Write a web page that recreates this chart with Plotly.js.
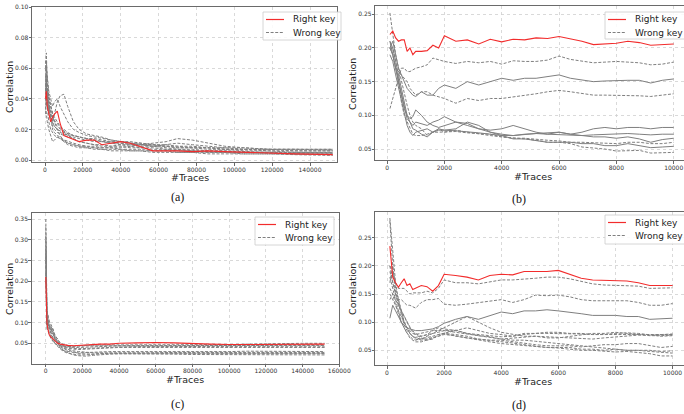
<!DOCTYPE html>
<html><head><meta charset="utf-8">
<script src="https://cdn.plot.ly/plotly-3.0.1.min.js"></script>
<style>html,body{margin:0;padding:0;background:#fff}#chart{width:684px;height:414px}</style>
</head><body><div id="chart"></div>
<script>
// ---------- data ----------
// panel (a)
const xA = [300,700,1200,2000,3000,4000,5000,6500,8000,10000,12000,15000,18000,22000,26000,30000,35000,40000,45000,50000,57000,64000,70000,78000,86000,95000,105000,118000,132000,152000];
const rightA = [.04,.045,.035,.03,.025,.028,.03,.032,.024,.016,.015,.014,.012,.013,.013,.01,.011,.012,.011,.009,.006,.006,.006,.0055,.006,.0055,.005,.0045,.004,.0035];
const wrongA = [
 [.06,.07,.05,.04,.035,.03,.025,.022,.02,.018,.016,.014,.012,.011,.01,.009,.009,.01,.009,.008,.007,.007,.006,.006,.0055,.005,.005,.0045,.004,.004],
 [.05,.04,.045,.035,.03,.025,.03,.038,.042,.043,.035,.025,.02,.017,.016,.015,.013,.012,.011,.01,.009,.008,.007,.007,.006,.006,.0055,.005,.005,.005],
 [.045,.065,.055,.045,.04,.035,.038,.04,.035,.03,.025,.02,.018,.016,.015,.014,.013,.012,.012,.011,.01,.009,.009,.008,.008,.007,.007,.006,.006,.006],
 [.035,.03,.025,.02,.015,.012,.013,.015,.014,.013,.012,.011,.01,.009,.009,.008,.008,.008,.009,.01,.011,.012,.014,.013,.011,.009,.008,.007,.007,.0065],
 [.055,.05,.04,.03,.028,.024,.022,.02,.018,.017,.016,.015,.014,.013,.012,.012,.011,.01,.01,.009,.009,.01,.011,.01,.009,.008,.008,.007,.007,.007],
 [.04,.035,.045,.038,.03,.02,.018,.016,.015,.013,.011,.01,.009,.008,.008,.007,.007,.007,.006,.006,.006,.006,.005,.005,.005,.005,.004,.004,.004,.0035],
 [.065,.06,.05,.042,.036,.03,.028,.025,.022,.02,.018,.016,.015,.014,.014,.013,.012,.012,.011,.01,.01,.009,.008,.008,.007,.007,.006,.006,.005,.005],
 [.045,.055,.04,.032,.026,.022,.02,.018,.017,.016,.015,.014,.012,.011,.01,.01,.009,.009,.008,.008,.008,.007,.007,.006,.006,.006,.005,.005,.005,.0045],
 [.05,.045,.038,.035,.032,.028,.025,.02,.016,.012,.01,.009,.008,.008,.007,.007,.006,.006,.006,.006,.005,.005,.005,.005,.004,.004,.004,.004,.0035,.003],
 [.04,.06,.048,.04,.035,.03,.026,.024,.021,.019,.017,.016,.015,.014,.013,.012,.012,.011,.011,.011,.01,.01,.009,.009,.008,.008,.007,.007,.006,.006],
 [.03,.05,.035,.025,.02,.018,.016,.015,.014,.012,.011,.01,.009,.009,.008,.008,.008,.007,.007,.007,.006,.006,.006,.006,.005,.005,.005,.005,.004,.004],
 [.06,.05,.042,.036,.03,.025,.022,.02,.019,.018,.017,.016,.015,.014,.013,.012,.011,.011,.01,.01,.009,.009,.008,.008,.008,.007,.007,.007,.007,.007]
];
// panel (b)
const xB = [100,200,300,400,500,600,700,800,900,1000,1200,1400,1600,1800,2000,2400,2800,3200,3600,4000,4400,4800,5200,5600,6000,6400,6800,7200,7600,8000,8400,8800,9200,9600,10000];
const rightB = [.22,.225,.215,.21,.212,.212,.195,.2,.19,.195,.195,.196,.204,.2,.218,.21,.212,.206,.213,.209,.213,.212,.215,.214,.217,.214,.21,.205,.206,.207,.21,.208,.204,.205,.206];
const wrongB = [
 [.11,.125,.14,.155,.17,.17,.165,.165,.168,.17,.172,.175,.185,.182,.18,.177,.18,.178,.18,.176,.181,.18,.18,.182,.188,.183,.18,.178,.179,.18,.179,.178,.175,.176,.179],
 [.2,.21,.19,.17,.16,.15,.14,.135,.13,.128,.135,.13,.13,.14,.145,.14,.15,.145,.15,.155,.152,.155,.155,.157,.16,.155,.153,.15,.151,.152,.152,.152,.148,.152,.154],
 [.2,.19,.17,.165,.16,.155,.15,.14,.135,.13,.135,.135,.13,.128,.125,.118,.125,.122,.125,.125,.127,.13,.132,.135,.137,.135,.132,.13,.13,.13,.13,.129,.128,.13,.132],
 [.252,.22,.19,.17,.15,.13,.115,.1,.09,.085,.08,.07,.075,.08,.075,.078,.075,.072,.07,.068,.067,.065,.063,.06,.06,.058,.053,.052,.05,.047,.048,.048,.044,.044,.045],
 [.21,.2,.18,.16,.14,.12,.1,.095,.098,.108,.1,.09,.085,.082,.085,.09,.088,.08,.078,.08,.085,.08,.075,.072,.075,.072,.075,.08,.082,.08,.082,.082,.08,.082,.082],
 [.2,.19,.17,.15,.13,.11,.095,.09,.085,.09,.088,.085,.09,.093,.098,.09,.085,.08,.075,.072,.07,.072,.073,.073,.075,.072,.07,.068,.068,.066,.068,.065,.06,.064,.066],
 [.19,.18,.16,.14,.12,.1,.085,.075,.07,.075,.078,.08,.075,.078,.078,.08,.09,.085,.075,.07,.065,.065,.063,.06,.06,.06,.058,.058,.055,.055,.058,.055,.052,.053,.054],
 [.2,.2,.18,.15,.12,.1,.09,.08,.072,.07,.07,.072,.075,.075,.075,.076,.074,.073,.072,.068,.066,.066,.064,.063,.062,.06,.06,.059,.058,.058,.06,.06,.058,.058,.06],
 [.21,.19,.17,.15,.13,.11,.1,.09,.08,.078,.072,.068,.075,.08,.078,.077,.076,.074,.072,.07,.07,.072,.073,.072,.071,.07,.07,.071,.072,.073,.073,.072,.071,.072,.072]
];
const solidB = [false,true,false,false,true,true,true,false,true];
// panel (c)
const xC = [100,300,700,1200,2000,3000,4000,5000,6500,8000,10000,12000,15000,18000,22000,26000,30000,35000,40000,50000,60000,70000,80000,90000,100000,110000,120000,130000,140000,152000];
const rightC = [.21,.12,.1,.085,.07,.065,.06,.055,.05,.048,.046,.045,.044,.045,.046,.047,.048,.048,.05,.051,.052,.051,.049,.048,.047,.047,.048,.047,.048,.048];
const wrongC = [
 [.35,.2,.13,.115,.1,.095,.08,.07,.06,.05,.047,.045,.044,.044,.045,.046,.046,.046,.047,.047,.047,.046,.046,.046,.047,.048,.049,.049,.05,.05],
 [.3,.15,.11,.1,.085,.09,.075,.065,.055,.047,.044,.042,.04,.04,.041,.042,.043,.043,.044,.044,.044,.044,.044,.045,.045,.045,.045,.046,.046,.046],
 [.25,.18,.12,.12,.1,.08,.085,.07,.06,.05,.042,.04,.038,.037,.038,.039,.04,.041,.041,.042,.042,.043,.042,.042,.042,.042,.043,.043,.043,.043],
 [.28,.16,.1,.09,.095,.07,.065,.06,.05,.044,.04,.038,.036,.035,.036,.037,.038,.039,.04,.04,.04,.04,.04,.04,.04,.04,.04,.041,.041,.04],
 [.33,.14,.1,.1,.08,.075,.06,.05,.045,.038,.032,.03,.028,.027,.028,.029,.03,.03,.03,.03,.03,.03,.029,.03,.03,.031,.031,.031,.03,.03],
 [.27,.12,.09,.085,.075,.065,.055,.05,.042,.036,.03,.026,.024,.022,.022,.024,.025,.026,.026,.027,.027,.028,.028,.028,.028,.028,.029,.029,.028,.028],
 [.22,.13,.095,.11,.09,.085,.07,.06,.05,.04,.032,.028,.022,.02,.019,.021,.023,.024,.025,.025,.026,.026,.026,.025,.025,.026,.026,.026,.026,.025],
 [.31,.15,.105,.095,.088,.078,.072,.06,.05,.042,.036,.033,.03,.025,.024,.024,.025,.025,.024,.024,.024,.024,.023,.023,.023,.023,.023,.022,.022,.022],
 [.26,.17,.12,.105,.092,.085,.075,.065,.055,.046,.038,.035,.032,.03,.028,.027,.027,.027,.027,.027,.026,.026,.027,.027,.027,.027,.027,.027,.027,.026],
 [.2,.11,.085,.08,.07,.06,.055,.05,.046,.044,.042,.042,.042,.043,.044,.044,.044,.044,.045,.045,.045,.044,.044,.044,.044,.044,.044,.045,.045,.045]
];
// panel (d)
const xD = xB;
const rightD = [.235,.18,.17,.162,.17,.177,.165,.168,.158,.16,.165,.163,.155,.165,.185,.183,.18,.175,.183,.185,.184,.19,.19,.19,.192,.185,.178,.175,.174,.173,.173,.17,.165,.165,.165];
const wrongD = [
 [.2,.19,.17,.16,.16,.16,.155,.15,.152,.152,.152,.155,.152,.16,.175,.17,.17,.168,.172,.175,.175,.176,.178,.18,.18,.177,.172,.168,.166,.165,.165,.164,.16,.16,.161],
 [.28,.2,.15,.14,.14,.135,.13,.13,.128,.125,.135,.14,.14,.142,.132,.13,.132,.135,.138,.14,.135,.14,.148,.147,.148,.145,.14,.138,.138,.138,.138,.135,.13,.13,.133],
 [.107,.13,.12,.11,.1,.095,.09,.088,.086,.085,.085,.087,.088,.092,.098,.105,.11,.105,.112,.118,.115,.12,.12,.122,.12,.118,.115,.112,.112,.112,.11,.11,.105,.106,.107],
 [.2,.17,.15,.13,.12,.11,.1,.09,.085,.08,.075,.078,.085,.09,.088,.085,.08,.078,.075,.074,.075,.08,.08,.082,.082,.08,.08,.078,.078,.078,.078,.078,.077,.078,.078],
 [.16,.15,.13,.12,.11,.1,.09,.085,.08,.078,.08,.082,.085,.085,.09,.1,.11,.1,.09,.082,.078,.075,.075,.072,.072,.075,.078,.08,.08,.082,.08,.078,.076,.076,.077],
 [.18,.16,.14,.12,.1,.09,.08,.075,.07,.068,.07,.072,.075,.078,.08,.085,.09,.085,.08,.078,.075,.078,.08,.08,.08,.08,.079,.078,.078,.08,.081,.08,.078,.075,.076],
 [.14,.15,.14,.13,.12,.11,.1,.09,.082,.078,.072,.068,.07,.078,.08,.078,.075,.07,.068,.068,.065,.062,.06,.058,.058,.058,.056,.058,.06,.06,.062,.062,.058,.055,.057],
 [.15,.14,.13,.115,.1,.09,.08,.072,.068,.065,.065,.068,.072,.075,.08,.075,.072,.07,.068,.066,.063,.06,.058,.055,.055,.055,.052,.052,.05,.052,.05,.05,.048,.047,.045],
 [.19,.17,.15,.13,.11,.095,.085,.08,.075,.07,.068,.07,.072,.075,.078,.076,.072,.068,.065,.062,.06,.058,.056,.055,.054,.052,.05,.05,.048,.047,.048,.046,.044,.04,.04],
 [.17,.2,.16,.14,.12,.1,.09,.08,.075,.072,.07,.075,.08,.085,.085,.082,.078,.075,.072,.07,.068,.068,.066,.064,.062,.06,.058,.055,.054,.052,.05,.05,.05,.048,.049],
 [.285,.22,.17,.14,.12,.1,.09,.08,.075,.073,.075,.078,.08,.082,.085,.086,.08,.076,.074,.07,.072,.074,.075,.074,.073,.072,.07,.07,.072,.074,.076,.077,.077,.078,.079]
];
const solidD = [false,false,true,false,false,false,false,false,false,false,false];
const legendLabels = ["Right key","Wrong key"];
const captions = ["(a)","(b)","(c)","(d)"];
const xTitle = "#Traces", yTitle = "Correlation";
const xTicksA = [0,20000,40000,60000,80000,100000,120000,140000];
const xTicksC = [0,20000,40000,60000,80000,100000,120000,140000,160000];
const xTicksB = [0,2000,4000,6000,8000,10000];
const yTicksA = [0,0.02,0.04,0.06,0.08,0.10];
const yTicksB = [0.05,0.10,0.15,0.20,0.25];
const yTicksC = [0.05,0.10,0.15,0.20,0.25,0.30,0.35];

// ---------- layout helpers ----------
const W=684,H=414;
const px=x=>x/W, py=y=>1-y/H;
const RED='#f22c2c', GRAY='#7f7f7f', FONT='DejaVu Sans, sans-serif';

const panels = [
 {ax:'',  xs:xA, r:rightA, w:wrongA, solid:null,   dom:[32,337,7,162],    xr:[-6868,154260], yr:[-0.0013,0.1], xt:xTicksA, yt:yTicksA, leg:[263,341,12,40], cap:[177,197], xtp:[190,177], ytp:[9,87]},
 {ax:'2', xs:xB, r:rightB, w:wrongB, solid:solidB, dom:[375.3,684,6,160], xr:[-410,10360],  yr:[0.0337,0.2623], xt:xTicksB, yt:yTicksB, leg:[605,690,12,39], cap:[519,199], xtp:[533,176], ytp:[352,84]},
 {ax:'3', xs:xC, r:rightC, w:wrongC, solid:null,   dom:[31.7,339.3,213.3,363.7], xr:[-7600,160000], yr:[0.0008,0.3638], xt:xTicksC, yt:yTicksC, leg:[255,334,217,245], cap:[177,404], xtp:[185,379], ytp:[9,289]},
 {ax:'4', xs:xD, r:rightD, w:wrongD, solid:solidD, dom:[375.3,684,211.7,365], xr:[-410,10400], yr:[0.0239,0.2962], xt:xTicksB, yt:yTicksB, leg:[605,690,215,244], cap:[519,405], xtp:[533,381], ytp:[352,289]}
];

const traces=[], layout={
 width:W, height:H, margin:{l:0,r:0,t:0,b:0}, paper_bgcolor:'#fff', plot_bgcolor:'#fff',
 showlegend:false, font:{family:FONT, color:'#333'}, shapes:[], annotations:[]
};

panels.forEach(p=>{
 const xa='x'+p.ax, ya='y'+p.ax;
 p.w.forEach((ys,i)=>{
   const solid = p.solid ? p.solid[i] : false;
   traces.push({x:p.xs, y:ys, xaxis:xa, yaxis:ya, mode:'lines', hoverinfo:'skip',
     line:{color:GRAY, width:1, dash: solid?'solid':'3px,1.6px'}});
 });
 traces.push({x:p.xs, y:p.r, xaxis:xa, yaxis:ya, mode:'lines', hoverinfo:'skip', line:{color:RED, width:1.1}});
 const axCommon = {showline:true, mirror:true, linecolor:'#6a6a6a', linewidth:1, ticks:'outside', ticklen:2.5, tickwidth:0.8, tickcolor:'#444',
   showgrid:true, gridcolor:'#cfcfcf', griddash:'dot', gridwidth:0.8, zeroline:false, automargin:false, ticklabeloverflow:'allow',
   ticklabelstandoff:-1, tickangle:0, tickfont:{family:FONT, size:6, color:'#333'}};
 layout['xaxis'+p.ax] = Object.assign({}, axCommon, {domain:[px(p.dom[0]),px(p.dom[1])], range:p.xr, anchor:ya,
   tickmode:'array', tickvals:p.xt, ticktext:p.xt.map(String)});
 layout['yaxis'+p.ax] = Object.assign({}, axCommon, {domain:[py(p.dom[3]),py(p.dom[2])], range:p.yr, anchor:xa,
   tickmode:'array', tickvals:p.yt, ticktext:p.yt.map(v=>v.toFixed(2))});
 // axis titles
 layout.annotations.push({xref:'paper', yref:'paper', x:px(p.xtp[0]), y:py(p.xtp[1]), text:xTitle, showarrow:false,
   xanchor:'center', yanchor:'middle', font:{family:FONT,size:9.5,color:'#222'}});
 layout.annotations.push({xref:'paper', yref:'paper', x:px(p.ytp[0]), y:py(p.ytp[1]), text:yTitle, showarrow:false, textangle:-90,
   xanchor:'center', yanchor:'middle', font:{family:FONT,size:9.5,color:'#222'}});
 // legend box
 const [l,r,t,b]=p.leg;
 layout.shapes.push({type:'rect', xref:'paper', yref:'paper', x0:px(l), x1:px(r), y0:py(b), y1:py(t),
   line:{color:'#cccccc', width:0.8}, fillcolor:'rgba(255,255,255,0.85)', layer:'above'});
 const y1=t+7.5, y2=t+20.5;
 layout.shapes.push({type:'line', xref:'paper', yref:'paper', x0:px(l+3), x1:px(l+21), y0:py(y1), y1:py(y1), line:{color:RED,width:1.2}, layer:'above'});
 layout.shapes.push({type:'line', xref:'paper', yref:'paper', x0:px(l+3), x1:px(l+21), y0:py(y2), y1:py(y2), line:{color:GRAY,width:1.1,dash:'3px,1.6px'}, layer:'above'});
 legendLabels.forEach((txt,k)=>{
   layout.annotations.push({xref:'paper', yref:'paper', x:px(l+28), y:py(k?y2:y1), text:txt, showarrow:false,
     xanchor:'left', yanchor:'middle', font:{family:FONT,size:9,color:'#222'}});
 });
});
captions.forEach((c,i)=>{
 layout.annotations.push({xref:'paper', yref:'paper', x:px(panels[i].cap[0]), y:py(panels[i].cap[1]), text:c, showarrow:false,
   xanchor:'center', yanchor:'middle', font:{family:'Liberation Serif, DejaVu Serif, serif', size:12, color:'#111'}});
});

Plotly.newPlot('chart', traces, layout, {staticPlot:true});
</script></body></html>
